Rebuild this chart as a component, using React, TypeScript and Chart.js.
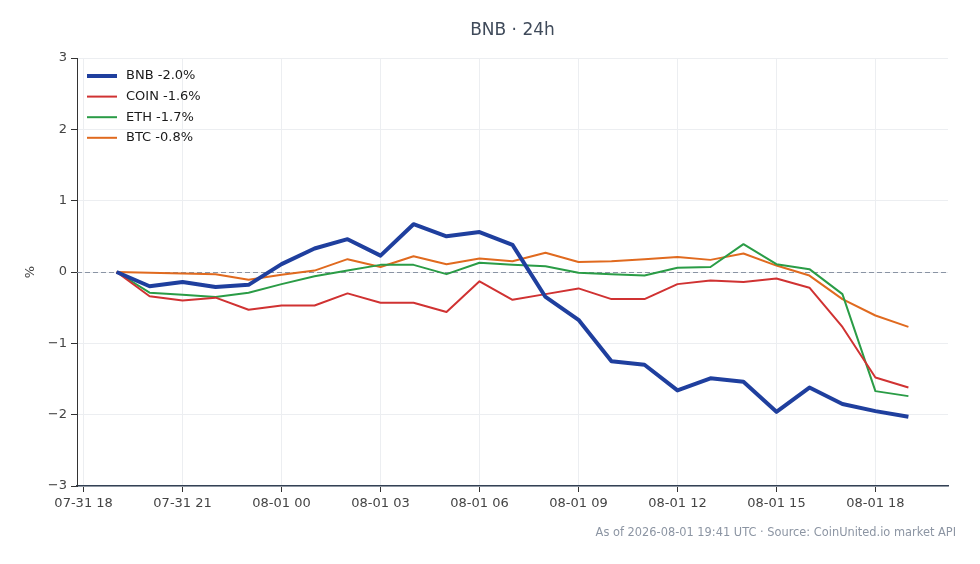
import React, { useEffect, useRef } from "react";
import { Chart, registerables } from "chart.js";

Chart.register(...registerables);

// ---- data ----
const title = "BNB · 24h";
const footer = "As of 2026-08-01 19:41 UTC · Source: CoinUnited.io market API";
const yAxisLabel = "%";

// hourly timestamps
const timestamps = [
  "07-31 19:00", "07-31 20:00", "07-31 21:00", "07-31 22:00", "07-31 23:00",
  "08-01 00:00", "08-01 01:00", "08-01 02:00", "08-01 03:00", "08-01 04:00",
  "08-01 05:00", "08-01 06:00", "08-01 07:00", "08-01 08:00", "08-01 09:00",
  "08-01 10:00", "08-01 11:00", "08-01 12:00", "08-01 13:00", "08-01 14:00",
  "08-01 15:00", "08-01 16:00", "08-01 17:00", "08-01 18:00", "08-01 19:00",
];

const xTickLabels = ["07-31 18", "07-31 21", "08-01 00", "08-01 03", "08-01 06", "08-01 09", "08-01 12", "08-01 15", "08-01 18"];
const yTicks = [-3, -2, -1, 0, 1, 2, 3];

const bnb = [0, -0.2, -0.14, -0.21, -0.18, 0.11, 0.33, 0.46, 0.23, 0.67, 0.5, 0.56, 0.38, -0.35, -0.67, -1.25, -1.3, -1.66, -1.49, -1.54, -1.96, -1.62, -1.85, -1.95, -2.03];
const coin = [0, -0.34, -0.4, -0.36, -0.53, -0.47, -0.47, -0.3, -0.43, -0.43, -0.56, -0.13, -0.39, -0.31, -0.23, -0.38, -0.38, -0.17, -0.12, -0.14, -0.09, -0.22, -0.77, -1.48, -1.62];
const eth = [0, -0.29, -0.32, -0.35, -0.29, -0.17, -0.06, 0.02, 0.1, 0.1, -0.03, 0.13, 0.1, 0.08, -0.01, -0.03, -0.05, 0.06, 0.07, 0.39, 0.11, 0.04, -0.31, -1.67, -1.74];
const btc = [0, -0.01, -0.02, -0.03, -0.11, -0.04, 0.02, 0.18, 0.07, 0.22, 0.11, 0.19, 0.15, 0.27, 0.14, 0.15, 0.18, 0.21, 0.17, 0.26, 0.09, -0.05, -0.38, -0.61, -0.77];

const seriesNames = ["BNB", "COIN", "ETH", "BTC"];
const seriesChanges = ["-2.0%", "-1.6%", "-1.7%", "-0.8%"];
const seriesValues = [bnb, coin, eth, btc];
const seriesColors = ["#1f3f9e", "#d03232", "#2a9c46", "#e06a1f"];
const seriesWidths = [4, 2, 2, 2];

// ---- helpers ----
function toHours(ts: string): number {
  const [md, hm] = ts.split(" ");
  const day = md === "07-31" ? 0 : 1;
  const h = parseInt(hm.split(":")[0], 10);
  return day * 24 + h - 18;
}
function tickLabelToHours(lbl: string): number {
  const [md, h] = lbl.split(" ");
  return (md === "07-31" ? 0 : 24) + parseInt(h, 10) - 18;
}

const FONT = "'DejaVu Sans', sans-serif";

const decorPlugin = {
  id: "decor",
  beforeDatasetsDraw(chart: any) {
    const { ctx, chartArea, scales } = chart;
    const y0 = Math.round(scales.y.getPixelForValue(0)) + 0.5;
    ctx.save();
    ctx.strokeStyle = "#8a94a4";
    ctx.lineWidth = 1;
    ctx.setLineDash([5, 3]);
    ctx.beginPath();
    ctx.moveTo(chartArea.left, y0);
    ctx.lineTo(chartArea.right, y0);
    ctx.stroke();
    ctx.restore();
  },
  afterDraw(chart: any) {
    const { ctx, chartArea } = chart;
    ctx.save();
    // title
    ctx.fillStyle = "#3f4a5a";
    ctx.font = `17px ${FONT}`;
    ctx.textAlign = "center";
    ctx.textBaseline = "middle";
    ctx.fillText(title, (chartArea.left + chartArea.right) / 2, 31);
    // footer
    ctx.fillStyle = "#8c95a3";
    ctx.font = `11.4px ${FONT}`;
    ctx.textAlign = "right";
    ctx.fillText(footer, 956, 533);
    // y label
    ctx.save();
    ctx.translate(31, (chartArea.top + chartArea.bottom) / 2);
    ctx.rotate(-Math.PI / 2);
    ctx.fillStyle = "#444";
    ctx.font = `13px ${FONT}`;
    ctx.textAlign = "center";
    ctx.fillText(yAxisLabel, 0, 0);
    ctx.restore();
    // legend
    ctx.font = `13px ${FONT}`;
    ctx.textAlign = "left";
    ctx.textBaseline = "middle";
    seriesNames.forEach((name, i) => {
      const y = chartArea.top + 18 + i * 20.6;
      ctx.strokeStyle = seriesColors[i];
      ctx.lineWidth = seriesWidths[i];
      ctx.setLineDash([]);
      ctx.beginPath();
      ctx.moveTo(chartArea.left + 10, y);
      ctx.lineTo(chartArea.left + 40, y);
      ctx.stroke();
      ctx.fillStyle = "#1a1a1a";
      ctx.fillText(`${name} ${seriesChanges[i]}`, chartArea.left + 49, y);
    });
    ctx.restore();
  },
};

export default function App() {
  const ref = useRef<HTMLCanvasElement | null>(null);
  useEffect(() => {
    if (!ref.current) return;
    const xs = timestamps.map(toHours);
    const span = xs[xs.length - 1] - xs[0];
    const margin = span * 0.05;
    const chart = new Chart(ref.current, {
      type: "line",
      data: {
        datasets: seriesNames.map((name, i) => ({
          label: name,
          data: seriesValues[i].map((v, j) => ({ x: xs[j], y: v })),
          borderColor: seriesColors[i],
          backgroundColor: seriesColors[i],
          borderWidth: seriesWidths[i],
          pointRadius: 0,
          tension: 0,
          borderJoinStyle: "round" as const,
        })),
      },
      options: {
        responsive: false,
        animation: false,
        devicePixelRatio: 1,
        layout: { padding: { top: 58, right: 32, left: 0, bottom: 0 } },
        plugins: { legend: { display: false }, title: { display: false }, tooltip: { enabled: false } },
        scales: {
          x: {
            type: "linear",
            min: xs[0] - margin,
            max: xs[xs.length - 1] + margin,
            afterBuildTicks: (s: any) => {
              s.ticks = xTickLabels.map((l) => ({ value: tickLabelToHours(l) }));
            },
            afterFit: (s: any) => {
              s.height = 78;
            },
            ticks: {
              autoSkip: false,
              maxRotation: 0,
              padding: 4,
              color: "#444",
              font: { family: FONT, size: 13 },
              callback: (v: any) => {
                const idx = xTickLabels.findIndex((l) => tickLabelToHours(l) === v);
                return idx >= 0 ? xTickLabels[idx] : "";
              },
            },
            grid: { color: "#eceef1", lineWidth: 1, tickColor: "#333", tickLength: 6 },
            border: { display: true, color: "#334155", width: 1.5 },
          },
          y: {
            type: "linear",
            min: yTicks[0],
            max: yTicks[yTicks.length - 1],
            afterBuildTicks: (s: any) => {
              s.ticks = yTicks.map((v) => ({ value: v }));
            },
            afterFit: (s: any) => {
              s.width = 77;
            },
            ticks: {
              padding: 4,
              color: "#444",
              font: { family: FONT, size: 13 },
              callback: (v: any) => String(v).replace("-", "\u2212"),
            },
            grid: { color: "#eceef1", lineWidth: 1, tickColor: "#333", tickLength: 6 },
            border: { display: true, color: "#333", width: 1 },
          },
        },
      },
      plugins: [decorPlugin],
    });
    return () => chart.destroy();
  }, []);
  return (
    <div style={{ position: "fixed", left: 0, top: 0, width: 980, height: 564, background: "#fff" }}>
      <canvas ref={ref} width={980} height={564} />
    </div>
  );
}
